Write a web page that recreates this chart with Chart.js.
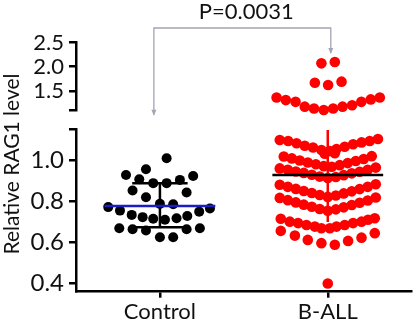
<!DOCTYPE html>
<html>
<head>
<meta charset="utf-8">
<script src="https://cdn.jsdelivr.net/npm/chart.js@4/dist/chart.umd.min.js"></script>
<style>
  html, body { margin: 0; padding: 0; background: #fff; }
  #wrap { position: relative; width: 417px; height: 327px; }
  #wrap canvas { position: absolute; left: 0; top: 0; }
</style>
</head>
<body>
<div id="wrap">
  <canvas id="lowChart" width="417" height="327"></canvas>
  <canvas id="highChart" width="417" height="327"></canvas>
</div>
<script>
const groups = ['Control', 'B-ALL'];

// horizontal spread of each dot (fraction of a group width) and its value
const controlX = [0.040, -0.202, -0.083, 0.198, -0.123, -0.040, 0.040, 0.119, -0.163, 0.159,
  -0.083, 0.000, 0.079, -0.308, 0.298, -0.238, -0.168, -0.103, -0.040, 0.030,
  0.099, 0.163, 0.234, -0.242, -0.163, -0.083, 0.159, 0.238, 0.000, 0.079];
const controlY = [1.012, 0.930, 0.958, 0.925, 0.909, 0.890, 0.890, 0.906, 0.854, 0.844,
  0.821, 0.789, 0.787, 0.773, 0.766, 0.756, 0.735, 0.724, 0.716, 0.711,
  0.719, 0.730, 0.751, 0.670, 0.665, 0.659, 0.665, 0.670, 0.626, 0.626];

const ballX = [
  -0.286, -0.236, -0.186, -0.137, -0.088, -0.038, 0.012, 0.052, 0.101, 0.151, 0.201, 0.250, 0.299, -0.018, 0.042,
  -0.262, -0.214, -0.167, -0.119, -0.071, -0.024, 0.024, 0.071, 0.119, 0.167, 0.214, 0.262,
  -0.286, -0.238, -0.190, -0.143, -0.095, -0.048, 0.000, 0.048, 0.095, 0.143, 0.190, 0.238, 0.286,
  -0.286, -0.238, -0.190, -0.143, -0.095, -0.048, 0.000, 0.048, 0.095, 0.143, 0.190, 0.238, 0.286,
  -0.286, -0.238, -0.190, -0.143, -0.095, -0.048, 0.000, 0.048, 0.095, 0.143, 0.190, 0.238, 0.286,
  -0.280, -0.226, -0.177, -0.127, -0.077, -0.038, 0.012, 0.052, 0.101, 0.151, 0.201, 0.240, 0.280,
  -0.280, -0.196, -0.119, -0.038, 0.042, 0.121, 0.201, 0.280,
  0.000];
const ballY = [
  1.101, 1.096, 1.085, 1.073, 1.064, 1.052, 1.047, 1.057, 1.068, 1.080, 1.089, 1.096, 1.106, 1.034, 1.036,
  1.020, 1.011, 1.001, 0.991, 0.982, 0.973, 0.970, 0.978, 0.988, 0.998, 1.008, 1.022,
  0.962, 0.955, 0.947, 0.940, 0.931, 0.922, 0.915, 0.920, 0.929, 0.938, 0.946, 0.955, 0.966,
  0.882, 0.872, 0.862, 0.852, 0.842, 0.832, 0.823, 0.830, 0.840, 0.850, 0.861, 0.872, 0.885,
  0.818, 0.807, 0.796, 0.785, 0.775, 0.764, 0.755, 0.762, 0.772, 0.783, 0.794, 0.805, 0.820,
  0.716, 0.702, 0.695, 0.686, 0.678, 0.670, 0.670, 0.678, 0.686, 0.695, 0.702, 0.711, 0.719,
  0.657, 0.634, 0.613, 0.597, 0.589, 0.608, 0.624, 0.646,
  0.400];

// B-ALL values above the axis break
const ballHighX = [-0.038, 0.042, -0.077, 0.002, 0.082, -0.305, -0.250, -0.192, -0.137,
  -0.082, -0.024, 0.032, 0.088, 0.145, 0.200, 0.256, 0.310];
const ballHighY = [2.07, 2.10, 1.667, 1.62, 1.69, 1.36, 1.306, 1.27, 1.17,
  1.13, 1.10, 1.13, 1.17, 1.20, 1.27, 1.32, 1.36];

const means = [0.779, 0.930];
const errLow = [0.675, 0.700];
const errHigh = [0.890, 1.150];

const lowTicks = [0.4, 0.6, 0.8, 1.0];
const highTicks = [1.5, 2.0, 2.5];
const lowRange = [0.36, 1.153];
const highRange = [1.1, 2.5];
const pValue = 'P=0.0031';
const yTitle = 'Relative RAG1 level';

const FONT = 'Lato, "Open Sans", sans-serif';
const AXIS_W = 76;

const toPoints = (xs, ys, g) => xs.map((dx, i) => ({ x: g + dx, y: ys[i] }));

const seg = (x1, y1, x2, y2, color) => ({
  type: 'line',
  data: [{ x: x1, y: y1 }, { x: x2, y: y2 }],
  borderColor: color,
  borderWidth: 2.5,
  pointRadius: 0,
  showLine: true,
  order: 0
});

const xScale = (show) => ({
  type: 'linear',
  min: -0.5,
  max: 1.5,
  display: show,
  afterBuildTicks: s => { s.ticks = groups.map((g, i) => ({ value: i })); },
  afterFit: s => { if (show) s.height = 35.3; },
  ticks: {
    callback: v => groups[v],
    color: '#111',
    font: { family: FONT, size: 22 },
    padding: 1,
    maxRotation: 0,
    autoSkip: false
  },
  grid: { drawOnChartArea: false, color: '#000', lineWidth: 2.5, tickLength: 6 },
  border: { color: '#000', width: 2.5 }
});

const yScale = (range, tickVals, breakVal, size) => ({
  type: 'linear',
  min: range[0],
  max: range[1],
  afterFit: s => { s.width = AXIS_W; },
  afterBuildTicks: s => { s.ticks = tickVals.concat([breakVal]).map(v => ({ value: v })); },
  ticks: {
    callback: v => v === breakVal ? '' : v.toFixed(1),
    color: '#111',
    font: { family: FONT, size: size },
    padding: 5,
    autoSkip: false
  },
  grid: { drawOnChartArea: false, color: '#000', lineWidth: 2.5, tickLength: 7 },
  border: { color: '#000', width: 2.5 }
});

const baseOpts = {
  responsive: false,
  animation: false,
  plugins: { legend: { display: false }, tooltip: { enabled: false } }
};

// lower part of the broken axis
new Chart(document.getElementById('lowChart'), {
  type: 'scatter',
  data: {
    datasets: [
      seg(-0.33, means[0], 0.33, means[0], '#1c1cc4'),
      seg(0, errLow[0], 0, errHigh[0], '#000'),
      seg(-0.165, errHigh[0], 0.165, errHigh[0], '#000'),
      seg(-0.165, errLow[0], 0.165, errLow[0], '#000'),
      seg(1 - 0.33, means[1], 1 + 0.33, means[1], '#000'),
      seg(1, errLow[1], 1, errHigh[1], '#f00'),
      {
        data: toPoints(controlX, controlY, 0),
        backgroundColor: '#000', borderWidth: 0, pointRadius: 5, clip: false, order: 1
      },
      {
        data: toPoints(ballX, ballY, 1),
        backgroundColor: '#f00', borderWidth: 0, pointRadius: 5.3, clip: false, order: 1
      }
    ]
  },
  options: {
    ...baseOpts,
    layout: { padding: { top: 129.3, bottom: 0, left: 0, right: 4 } },
    scales: { x: xScale(true), y: yScale(lowRange, lowTicks, lowRange[1], 24) }
  }
});

const decor = {
  id: 'decor',
  afterDraw(chart) {
    const { ctx, scales: { x, y } } = chart;
    const xl = x.getPixelForValue(-0.036);
    const xr = x.getPixelForValue(1.018);
    const yt = y.getPixelForValue(2.806);
    const yl = y.getPixelForValue(1.0);
    const yr = y.getPixelForValue(2.285);
    ctx.save();
    ctx.strokeStyle = '#a4a4b4';
    ctx.fillStyle = '#a4a4b4';
    ctx.lineWidth = 1.3;
    ctx.beginPath();
    ctx.moveTo(xl, yl);
    ctx.lineTo(xl, yt);
    ctx.lineTo(xr, yt);
    ctx.lineTo(xr, yr);
    ctx.stroke();
    [[xl, yl], [xr, yr]].forEach(([px, py]) => {
      ctx.beginPath();
      ctx.moveTo(px - 2.5, py - 5);
      ctx.lineTo(px + 2.5, py - 5);
      ctx.lineTo(px, py + 1);
      ctx.closePath();
      ctx.fill();
    });
    ctx.fillStyle = '#111';
    ctx.font = '22px ' + FONT;
    ctx.textAlign = 'center';
    ctx.textBaseline = 'middle';
    ctx.fillText(pValue, (xl + xr) / 2 + 4, yt - 16);
    ctx.translate(12.5, 164);
    ctx.rotate(-Math.PI / 2);
    ctx.font = '21px ' + FONT;
    ctx.fillText(yTitle, 0, 0);
    ctx.restore();
  }
};

// upper part of the broken axis
new Chart(document.getElementById('highChart'), {
  type: 'scatter',
  data: {
    datasets: [
      {
        data: toPoints(ballHighX, ballHighY, 1),
        backgroundColor: '#f00', borderWidth: 0, pointRadius: 5.3, clip: false
      }
    ]
  },
  options: {
    ...baseOpts,
    layout: { padding: { top: 42.7, bottom: 217, left: 0, right: 4 } },
    scales: { x: xScale(false), y: yScale(highRange, highTicks, highRange[0], 22) }
  },
  plugins: [decor]
});
</script>
</body>
</html>
